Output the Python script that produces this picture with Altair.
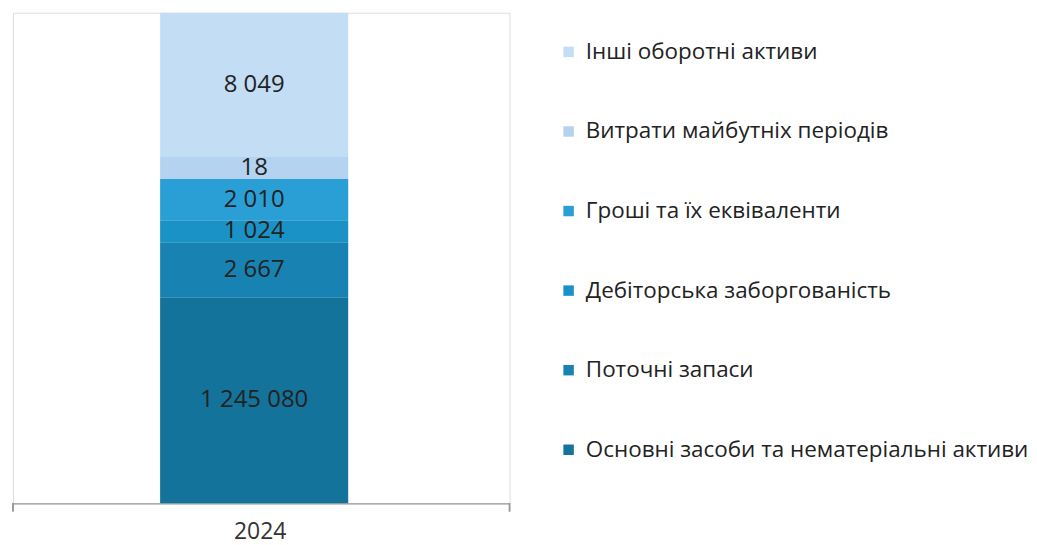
import altair as alt
import pandas as pd

year = "2024"
categories = [
    "Основні засоби та нематеріальні активи",
    "Поточні запаси",
    "Дебіторська заборгованість",
    "Гроші та їх еквіваленти",
    "Витрати майбутніх періодів",
    "Інші оборотні активи",
]
values = [1245080, 2667, 1024, 2010, 18, 8049]
# visual share of the bar height (%)
shares = [42.0, 11.2, 4.5, 8.4, 4.5, 29.4]
colors = ["#14739a", "#1883b2", "#1b92c6", "#2a9fd6", "#b4d3f0", "#c3ddf5"]

df = pd.DataFrame({
    "year": [year] * len(categories),
    "category": categories,
    "value": values,
    "share": shares,
    "order": list(range(len(categories))),
    "label": [f"{v:,}".replace(",", " ") for v in values],
})

legend_order = categories[::-1]
color_scale = alt.Scale(domain=legend_order, range=colors[::-1])

base = alt.Chart(df).transform_stack(
    stack="share", groupby=["year"], as_=["y0", "y1"],
    sort=[alt.SortField("order", order="ascending")],
).transform_calculate(mid="(datum.y0 + datum.y1) / 2")

x_scale = alt.Scale(paddingInner=0, paddingOuter=0.82, align=0.477)
x_enc = alt.X(
    "year:N", title=None, scale=x_scale,
    axis=alt.Axis(labelFontSize=23, labelFont="Open Sans", labelColor="#333333",
                  labelPadding=17, ticks=False, domainColor="#9a9a9a",
                  domainWidth=1.2, labelAngle=0, labelOffset=6),
)
y_scale = alt.Scale(domain=[0, 100], nice=False)

bars = base.mark_bar(stroke=None).encode(
    x=x_enc,
    y=alt.Y("y0:Q", scale=y_scale, axis=None),
    y2="y1:Q",
    color=alt.Color(
        "category:N", scale=color_scale, sort=legend_order,
        legend=alt.Legend(
            title=None, orient="none", legendX=546, legendY=28,
            symbolType="square", symbolSize=110, symbolStrokeWidth=0,
            labelFontSize=22.5, labelFont="Open Sans", labelColor="#222222",
            rowPadding=56.8, labelLimit=700, symbolOffset=0, labelOffset=6,
        ),
    ),
)

texts = base.mark_text(fontSize=24, font="Open Sans", color="#222222").encode(
    x=alt.X("year:N", scale=x_scale),
    y=alt.Y("mid:Q", scale=y_scale),
    text="label:N",
)

tick_l = alt.Chart(df).mark_rule(color="#9a9a9a", strokeWidth=1.2).encode(
    x=alt.value(0), y=alt.value(492), y2=alt.value(500))
tick_r = alt.Chart(df).mark_rule(color="#9a9a9a", strokeWidth=1.2).encode(
    x=alt.value(498), y=alt.value(492), y2=alt.value(500))

chart = alt.layer(bars, texts, tick_l, tick_r).properties(
    width=498, height=492,
    padding={"left": 4, "top": 4, "right": 0, "bottom": 4},
).configure_view(stroke=None).configure(background="#ffffff")

chart.save("out.html", embed_options={"renderer": "svg", "actions": False})
